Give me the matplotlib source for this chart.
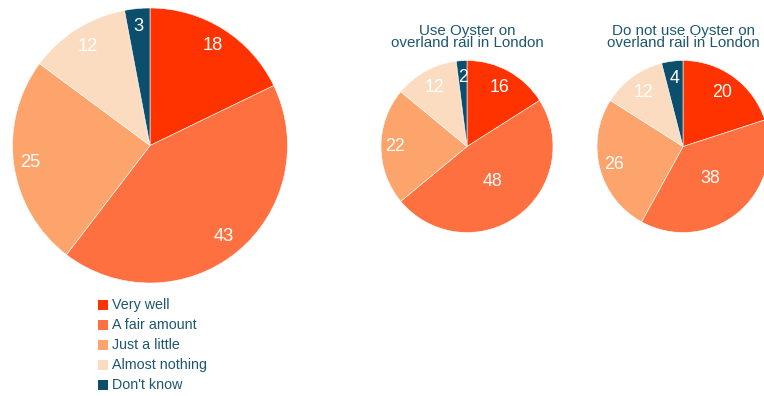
import matplotlib
matplotlib.use("Agg")
import matplotlib.pyplot as plt
from matplotlib.patches import Rectangle
import numpy as np

plt.rcParams['font.family'] = ['Liberation Sans', 'DejaVu Sans']

categories = ["Very well", "A fair amount", "Just a little", "Almost nothing", "Don't know"]
all_values = [18, 43, 25, 12, 3]
users_values = [16, 48, 22, 12, 2]
nonusers_values = [20, 38, 26, 12, 4]
titles = ["", "Use Oyster on\noverland rail in London", "Do not use Oyster on\noverland rail in London"]

colors = ["#FF3300", "#FF7040", "#FDA46C", "#FBDCC0", "#0B4F6C"]
text_color = "#1d5670"

W, H = 764, 396
fig = plt.figure(figsize=(W / 100, H / 100), dpi=100)

# (center x px, center y px, radius px, label radius fractions, label font size)
layouts = [
    (150, 145.5, 137.5, [0.86, 0.85, 0.88, 0.85, 0.87], 13.2),
    (467, 146.5, 86, [0.78, 0.50, 0.84, 0.78, 0.80], 12.8),
    (683, 146.5, 86, [0.77, 0.49, 0.83, 0.78, 0.80], 12.8),
]
datasets = [all_values, users_values, nonusers_values]

for vals, title, (cx, cy, r, lr, fs) in zip(datasets, titles, layouts):
    ax = fig.add_axes([(cx - r) / W, (H - cy - r) / H, 2 * r / W, 2 * r / H])
    wedges, _ = ax.pie(vals, colors=colors, startangle=90, counterclock=False,
                       radius=1.0, wedgeprops=dict(linewidth=0.4, edgecolor="white"))
    total = float(sum(vals))
    cum = 0.0
    for v, f in zip(vals, lr):
        mid = (cum + v / 2) / total * 2 * np.pi
        cum += v
        x = f * np.sin(mid)
        y = f * np.cos(mid)
        ax.text(x, y, str(v), ha="center", va="center", color="white", fontsize=fs)
    ax.set_xlim(-1, 1)
    ax.set_ylim(-1, 1)
    ax.set_aspect("equal")
    ax.axis("off")
    if title:
        fig.text(cx / W, (H - 37) / H, title, ha="center", va="center",
                 fontsize=10.9, color=text_color, linespacing=0.9)

# legend
for i, (cat, col) in enumerate(zip(categories, colors)):
    yc = 305 + 20 * i
    fig.patches.append(Rectangle(((98) / W, (H - yc - 5) / H), 10 / W, 10 / H,
                                 transform=fig.transFigure, facecolor=col, edgecolor="none"))
    fig.text(111.5 / W, (H - yc) / H, cat, ha="left", va="center", fontsize=10.3, color=text_color)

fig.savefig("out.png", dpi=100)
